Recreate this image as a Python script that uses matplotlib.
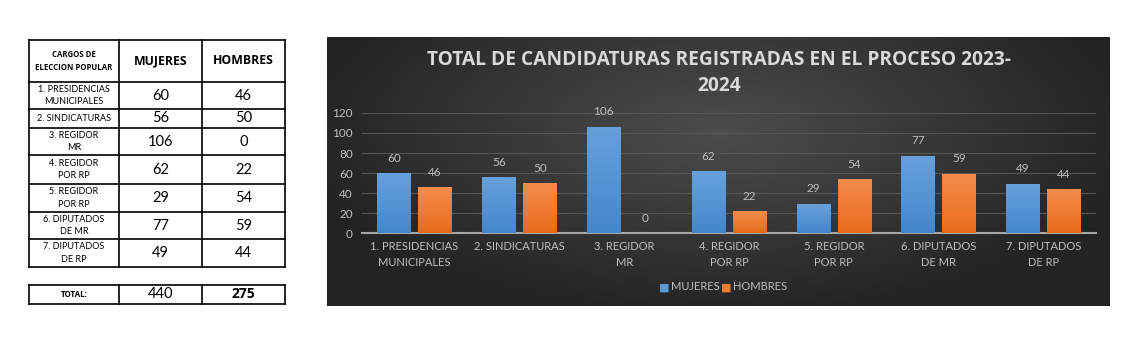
import numpy as np
import matplotlib.pyplot as plt

# datos de la tabla / grafica
cargos = ["1. PRESIDENCIAS\nMUNICIPALES", "2. SINDICATURAS", "3. REGIDOR\nMR",
          "4. REGIDOR\nPOR RP", "5. REGIDOR\nPOR RP", "6. DIPUTADOS\nDE MR",
          "7. DIPUTADOS\nDE RP"]
mujeres = [60, 56, 106, 62, 29, 77, 49]
hombres = [46, 50, 0, 22, 54, 59, 44]
totales = [440, 275]   # tal como aparece en la tabla original
total_label = "TOTAL:"
titulo = "TOTAL DE CANDIDATURAS REGISTRADAS EN EL PROCESO 2023-\n2024"
y_ticks = [0, 20, 40, 60, 80, 100, 120]

W, H = 1143, 344
plt.rcParams['font.family'] = ['Lato', 'DejaVu Sans']
BOLD = ['Open Sans', 'DejaVu Sans']

fig = plt.figure(figsize=(W / 100, H / 100), dpi=100)
fig.patch.set_facecolor("white")

# capa en pixeles para la tabla
pix = fig.add_axes([0, 0, 1, 1])
pix.set_xlim(0, W)
pix.set_ylim(H, 0)
pix.axis("off")

col_x = [29, 119, 202, 285]
row_y = [40, 82, 109, 128, 155, 184, 212, 239, 267]
tot_y = [285, 304]

lw = 1.2
for y in row_y:
    pix.plot([col_x[0], col_x[-1]], [y, y], color="black", lw=lw)
for x in col_x:
    pix.plot([x, x], [row_y[0], row_y[-1]], color="black", lw=lw)
for y in tot_y:
    pix.plot([col_x[0], col_x[-1]], [y, y], color="black", lw=lw)
for x in col_x:
    pix.plot([x, x], [tot_y[0], tot_y[1]], color="black", lw=lw)

cx = [(col_x[i] + col_x[i + 1]) / 2 for i in range(3)]
hy = (row_y[0] + row_y[1]) / 2
pix.text(cx[0], hy, "CARGOS DE\nELECCION POPULAR", ha="center", va="center",
         fontsize=5.6, fontweight="bold", family=BOLD, linespacing=1.5)
pix.text(cx[1], hy, "MUJERES", ha="center", va="center", fontsize=8.8, fontweight="bold", family=BOLD)
pix.text(cx[2], hy, "HOMBRES", ha="center", va="center", fontsize=8.8, fontweight="bold", family=BOLD)
for i, c in enumerate(cargos):
    ym = (row_y[i + 1] + row_y[i + 2]) / 2
    pix.text(cx[0], ym, c, ha="center", va="center", fontsize=6.5, linespacing=1.45)
    pix.text(cx[1], ym, str(mujeres[i]), ha="center", va="center", fontsize=10.5)
    pix.text(cx[2], ym, str(hombres[i]), ha="center", va="center", fontsize=10.5)
ty = (tot_y[0] + tot_y[1]) / 2
pix.text(cx[0], ty, total_label, ha="center", va="center", fontsize=5.8, fontweight="bold", family=BOLD)
pix.text(cx[1], ty, str(totales[0]), ha="center", va="center", fontsize=10.5)
pix.text(cx[2], ty, str(totales[1]), ha="center", va="center", fontsize=10, fontweight="bold", family=BOLD)

# fondo oscuro con degradado
bx0, by0, bx1, by1 = 327, 37, 1110, 306
bg = fig.add_axes([bx0 / W, 1 - by1 / H, (bx1 - bx0) / W, (by1 - by0) / H])
gx, gy = np.meshgrid(np.linspace(-1, 1, 300), np.linspace(-1, 1, 120))
r = np.sqrt((gx / 1.0) ** 2 + ((gy + 0.3) / 1.3) ** 2)
shade = np.clip(0.30 - 0.15 * r, 0.14, 0.30)
bg.imshow(np.dstack([shade] * 3), aspect="auto", extent=[0, 1, 0, 1], origin="upper")
bg.axis("off")

# grafica
ax = fig.add_axes([362 / W, (H - 233) / H, (1096 - 362) / W, 120 / H])
ax.set_facecolor("none")
x = np.arange(len(cargos))
bw = 0.32
off = 0.195

def grad_bars(xs, vals, top, bottom):
    bars = ax.bar(xs, vals, bw, color="none", zorder=3)
    cmap = np.array([np.linspace(top[k], bottom[k], 64) for k in range(3)]).T
    for b in bars:
        if b.get_height() <= 0:
            continue
        im = ax.imshow(cmap[:, None, :], aspect="auto", zorder=3,
                       extent=[b.get_x(), b.get_x() + b.get_width(), 0, b.get_height()])
        im.set_clip_path(b)
    return bars

blue_top, blue_bot = (0.40, 0.63, 0.86), (0.27, 0.53, 0.80)
org_top, org_bot = (0.96, 0.55, 0.30), (0.91, 0.42, 0.11)
b1 = grad_bars(x - off, mujeres, blue_top, blue_bot)
b2 = grad_bars(x + off, hombres, org_top, org_bot)

for xi, v in zip(x - off, mujeres):
    ax.text(xi, v + 15, str(v), ha="center", va="center", color="#bfbfbf", fontsize=8.5)
for xi, v in zip(x + off, hombres):
    ax.text(xi, v + 15, str(v), ha="center", va="center", color="#bfbfbf", fontsize=8.5)

ax.set_xlim(-0.5, len(cargos) - 0.5)
ax.set_ylim(0, 120)
ax.set_yticks(y_ticks)
ax.set_xticks(x)
ax.set_xticklabels(cargos, color="#bfbfbf", fontsize=8, linespacing=1.55)
ax.tick_params(axis="y", colors="#bfbfbf", labelsize=8.5, length=0, pad=6.5)
ax.tick_params(axis="x", length=0, pad=6)
ax.grid(axis="y", color="#555555", lw=0.8, zorder=0)
for s in ["top", "right", "left"]:
    ax.spines[s].set_visible(False)
ax.spines["bottom"].set_color("#a6a6a6")
ax.spines["bottom"].set_linewidth(1.5)

fig.text(719 / W, 1 - 73 / H, titulo, ha="center", va="center", family=BOLD,
         color="#d9d9d9", fontsize=13.8, fontweight="bold", linespacing=1.35)

# leyenda
fig.text(659 / W, 1 - 287 / H, "\u25a0", color="#5b9bd5", fontsize=8, va="center")
fig.text(671 / W, 1 - 287 / H, "MUJERES", color="#bfbfbf", fontsize=8, va="center")
fig.text(721 / W, 1 - 287 / H, "\u25a0", color="#ed7d31", fontsize=8, va="center")
fig.text(733 / W, 1 - 287 / H, "HOMBRES", color="#bfbfbf", fontsize=8, va="center")

fig.savefig("out.png", dpi=100, facecolor="white")
